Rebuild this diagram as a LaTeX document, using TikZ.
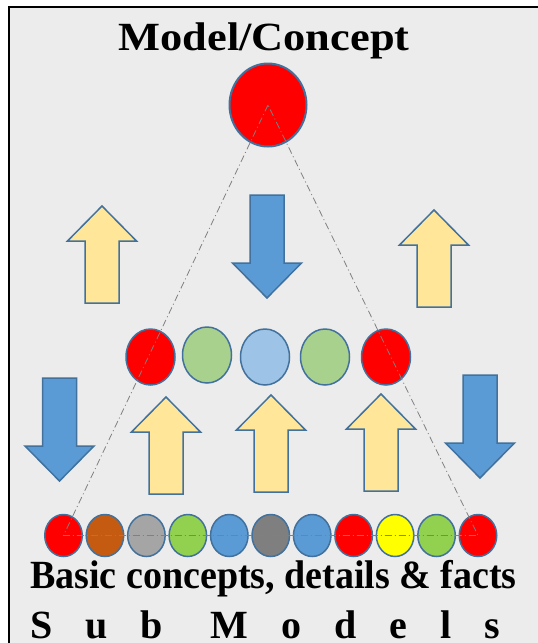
\documentclass[tikz,border=0pt]{standalone}
\usepackage{fontspec}
\setmainfont{Liberation Serif}
\usetikzlibrary{shapes.geometric}
\definecolor{bggray}{HTML}{ECECEC}
\definecolor{edgeblue}{HTML}{41719C}
\definecolor{arrblue}{HTML}{5B9BD5}
\definecolor{arryellow}{HTML}{FFE699}
\definecolor{cred}{HTML}{FF0000}
\definecolor{cgreenl}{HTML}{A9D18E}
\definecolor{cbluel}{HTML}{9DC3E6}
\definecolor{cbrown}{HTML}{C55A11}
\definecolor{cgray}{HTML}{A5A5A5}
\definecolor{cgreen}{HTML}{92D050}
\definecolor{cblue}{HTML}{5B9BD5}
\definecolor{cdgray}{HTML}{7F7F7F}
\definecolor{cyellow}{HTML}{FFFF00}
\definecolor{linegray}{HTML}{808080}
\tikzset{
  ball/.style={ellipse, draw=edgeblue, line width=1.5pt, inner sep=0pt},
  topball/.style={ball, minimum width=77pt, minimum height=83pt, line width=2pt},
  midball/.style={ball, minimum width=49pt, minimum height=56pt},
  lowball/.style={ball, minimum width=37.5pt, minimum height=42pt},
  bigtext/.style={font=\fontsize{40}{48}\selectfont\bfseries, inner sep=0pt},
  guide/.style={draw=linegray, line width=0.8pt, dash pattern=on 7pt off 3pt on 1pt off 3pt},
  arrowedge/.style={draw=edgeblue, line width=1.5pt, line join=miter},
  uparrow/.pic={\path[arrowedge, fill=arryellow] (0,0) -- (34.5,35) -- (17,35) -- (17,97) -- (-17,97) -- (-17,35) -- (-34.5,35) -- cycle;},
  downarrow/.pic={\path[arrowedge, fill=arrblue] (0,0) -- (34.5,-35) -- (17,-35) -- (17,-103) -- (-17,-103) -- (-17,-35) -- (-34.5,-35) -- cycle;}
}
\begin{document}
\begin{tikzpicture}[x=1pt, y=-1pt]
\useasboundingbox (0,0) rectangle (538,643);
\fill[bggray] (9,7) rectangle (540,645);
\draw[line width=2pt] (9,645) -- (9,7) -- (540,7);

\node[bigtext, anchor=base] (title) at (264,50) {\scalebox{1.11}[1]{Model/Concept}};

\node[topball, fill=cred] (top) at (268,105) {};

\node[midball, fill=cred] (m1) at (150.5,357) {};
\node[midball, fill=cgreenl] (m2) at (207,355) {};
\node[midball, fill=cbluel] (m3) at (265,357) {};
\node[midball, fill=cgreenl] (m4) at (325,357) {};
\node[midball, fill=cred] (m5) at (386,357) {};

\foreach \i/\c in {1/cred,2/cbrown,3/cgray,4/cgreen,5/cblue,6/cdgray,7/cblue,8/cred,9/cyellow,10/cgreen,11/cred}{
  \node[lowball, fill=\c] (b\i) at ({63.5+41.45*(\i-1)},535.5) {};
}

\pic at (102,206) {uparrow};
\pic at (434,210) {uparrow};
\pic at (166,397) {uparrow};
\pic at (271,395) {uparrow};
\pic at (381,394) {uparrow};
\pic at (267,298) {downarrow};
\pic at (59.5,481) {downarrow};
\pic at (480,478) {downarrow};

\draw[guide] (top.center) -- (b1.center) -- (b11.center) -- cycle;

\node[bigtext, anchor=base west] (basic) at (30,588) {\scalebox{0.95}[1]{Basic concepts, details \& facts}};
\node[bigtext, anchor=base west] (sub) at (30,638) {\hbox to 470pt{S\hfill u\hfill b\hfill\hskip 15pt M\hfill o\hfill d\hfill e\hfill l\hfill s}};
\end{tikzpicture}
\end{document}
